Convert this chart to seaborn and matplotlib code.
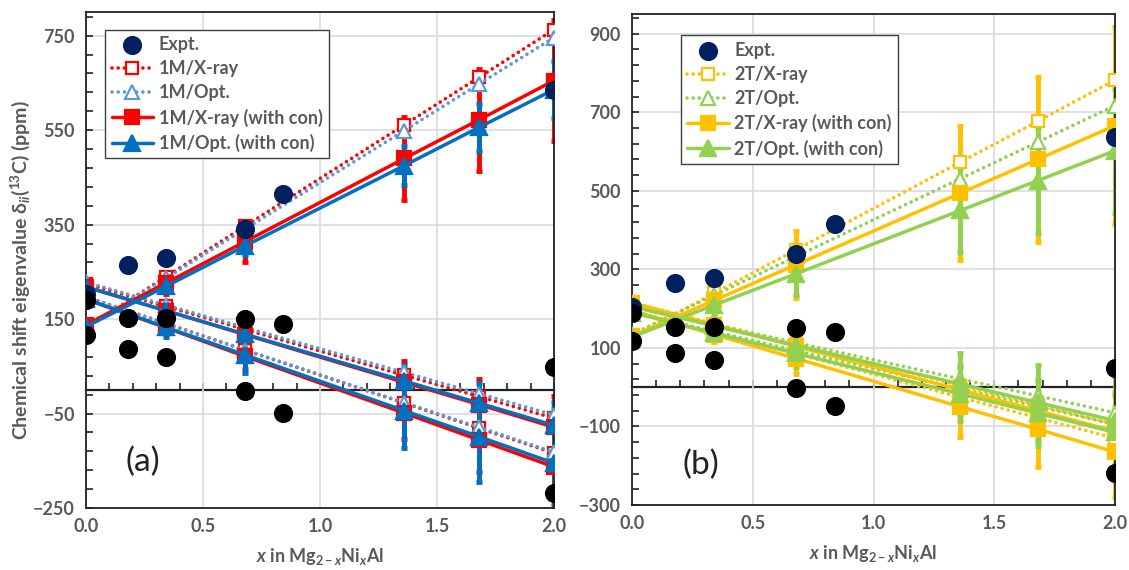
import numpy as np
import pandas as pd
import matplotlib
matplotlib.use("Agg")
import matplotlib.pyplot as plt
import seaborn as sns
from matplotlib.ticker import AutoMinorLocator

# ---- data ----
x_calc = [0, 0.34, 0.68, 1.36, 1.68, 2.0]
x_expt = [0, 0.18, 0.34, 0.68, 0.84, 2.0]

# experiment (d11 navy, d22 / d33 black)
expt_d11 = [203, 265, 279, 340, 415, 636]
expt_d22 = [190, 153, 153, 150, 140, 48]
expt_d33 = [117, 86, 70, -3, -48, -219]

# panel (a): rows = d11, d22, d33
m1_xray = [[132, 239, 347, 561, 662, 763],
           [225, 177, 128, 31, -14, -60],
           [197, 141, 84, -28, -81, -134]]
m1_opt = [[132, 236, 341, 549, 648, 746],
          [228, 180, 132, 37, -8, -53],
          [197, 141, 85, -27, -79, -132]]
m1_xray_con = [[138, 226, 314, 490, 572, 655],
               [218, 168, 117, 16, -31, -79],
               [192, 132, 71, -49, -106, -163]]
m1_opt_con = [[134, 219, 305, 475, 556, 636],
              [218, 168, 118, 19, -28, -75],
              [192, 133, 74, -44, -99, -155]]
m1_xray_con_err = [[0, 22, 44, 87, 108, 128],
                   [0, 11, 22, 45, 55, 66],
                   [0, 14, 27, 54, 67, 80]]
m1_opt_con_err = [[0, 10, 20, 41, 50, 60],
                  [0, 9, 17, 34, 42, 50],
                  [0, 20, 39, 79, 97, 116]]

# panel (b)
t2_xray = [[128, 239, 350, 573, 677, 782],
           [215, 162, 110, 4, -45, -95],
           [195, 140, 85, -26, -78, -130]]
t2_opt = [[135, 234, 333, 531, 624, 717],
          [205, 159, 113, 21, -22, -65],
          [190, 142, 93, -4, -49, -95]]
t2_xray_con = [[130, 221, 312, 494, 580, 666],
               [215, 159, 104, -7, -60, -112],
               [195, 134, 73, -50, -107, -165]]
t2_opt_con = [[128, 209, 289, 450, 526, 602],
              [205, 156, 106, 8, -39, -85],
              [190, 138, 86, -17, -66, -115]]
t2_xray_con_err = [[0, 42, 85, 170, 210, 250],
                   [0, 15, 31, 61, 76, 90],
                   [0, 19, 39, 78, 96, 114]]
t2_opt_con_err = [[0, 27, 54, 107, 133, 158],
                  [0, 19, 39, 78, 96, 114],
                  [0, 17, 34, 68, 84, 100]]

sns.set_theme(style="white")
plt.rcParams['font.family'] = ['Lato', 'DejaVu Sans']
plt.rcParams['mathtext.fontset'] = 'custom'
plt.rcParams['mathtext.rm'] = 'Lato:bold'
plt.rcParams['mathtext.it'] = 'Lato:italic:bold'
plt.rcParams['mathtext.bf'] = 'Lato:bold'

gray = '#595959'
dot = (0, (0.01, 1.7))


def draw_series(ax, vals, errs, color, mk, ls, hollow, label):
    for i, yv in enumerate(vals):
        if errs is not None:
            ax.errorbar(x_calc, yv, yerr=errs[i], fmt='none', ecolor=color,
                        elinewidth=3.5, capsize=2.5, capthick=3.5, zorder=2)
        if hollow:
            ms = 9 if mk == 's' else 10
        else:
            ms = 10.5 if mk == 's' else 11.5
        sns.lineplot(x=x_calc, y=yv, ax=ax, color=color, linestyle=ls,
                     lw=2.6 if hollow else 2.5,
                     marker=mk, markersize=ms,
                     markerfacecolor='white' if hollow else color,
                     markeredgecolor=color, markeredgewidth=1.6,
                     dash_capstyle='round',
                     label=label if i == 0 else None, zorder=3)


def draw_expt(ax):
    sns.scatterplot(x=x_expt, y=expt_d11, ax=ax, color='#002060', s=190,
                    linewidth=0, zorder=5, label='Expt.')
    sns.scatterplot(x=x_expt, y=expt_d22, ax=ax, color='black', s=190,
                    linewidth=0, zorder=6)
    sns.scatterplot(x=x_expt, y=expt_d33, ax=ax, color='black', s=190,
                    linewidth=0, zorder=6)


def style_axes(ax, ylo, yhi, yticks):
    ax.set_xlim(0, 2.0)
    ax.set_ylim(ylo, yhi)
    ax.set_xticks(np.arange(0, 2.01, 0.5))
    ax.set_xticklabels(['0.0', '0.5', '1.0', '1.5', '2.0'])
    ax.set_yticks(yticks)
    ax.yaxis.set_minor_locator(AutoMinorLocator(5))
    ax.grid(True, which='major', color='#d9d9e4', lw=1.2)
    ax.set_axisbelow(True)
    ax.tick_params(axis='y', which='both', direction='in', left=True,
                   color='#222222', width=1.2, pad=8)
    ax.tick_params(axis='y', which='major', length=5)
    ax.tick_params(axis='y', which='minor', length=5)
    ax.tick_params(axis='x', length=0, pad=7)
    for lab in ax.get_xticklabels() + ax.get_yticklabels():
        lab.set_fontweight('bold')
        lab.set_color(gray)
        lab.set_fontsize(13)
    for sp in ax.spines.values():
        sp.set_color('#222222')
        sp.set_linewidth(1.3)
    # horizontal axis crossing at zero with minor ticks
    sec = ax.secondary_xaxis(0, transform=ax.transData)
    sec.set_xticks(np.arange(0, 2.01, 0.1))
    sec.tick_params(direction='in', length=5, width=1.2, color='#222222',
                    labelbottom=False, labeltop=False)
    for sp in sec.spines.values():
        sp.set_color('#222222')
        sp.set_linewidth(1.6)
    ax.set_xlabel(r'$x$ in Mg$_{2-x}$Ni$_x$Al', fontsize=13,
                  fontweight='bold', color=gray, labelpad=8)


def make_legend(ax, loc_xy):
    leg = ax.legend(loc='upper left', bbox_to_anchor=loc_xy, fontsize=13,
                    frameon=True, fancybox=False, framealpha=1,
                    edgecolor='#404040', handlelength=2.3, handletextpad=0.3,
                    borderpad=0.35, labelspacing=0.4)
    leg.get_frame().set_linewidth(1.0)
    for t in leg.get_texts():
        t.set_fontweight('bold')
        t.set_color(gray)
    leg.set_zorder(10)


fig = plt.figure(figsize=(11.29, 5.70), dpi=100)
ax_a = fig.add_axes([0.0762, 0.1088, 0.4145, 0.870])
ax_b = fig.add_axes([0.5598, 0.114, 0.4278, 0.8614])

# ---- panel (a) ----
draw_expt(ax_a)
draw_series(ax_a, m1_xray, None, '#ff0000', 's', dot, True, '1M/X-ray')
draw_series(ax_a, m1_opt, None, '#5b9bd5', '^', dot, True, '1M/Opt.')
draw_series(ax_a, m1_xray_con, m1_xray_con_err, '#ff0000', 's', '-', False,
            '1M/X-ray (with con)')
draw_series(ax_a, m1_opt_con, m1_opt_con_err, '#0070c0', '^', '-', False,
            '1M/Opt. (with con)')
style_axes(ax_a, -250, 800, np.arange(-250, 751, 200))
ax_a.set_ylabel(r'Chemical shift eigenvalue δ$_{ii}$($^{13}$C) (ppm)',
                fontsize=14, fontweight='bold', color=gray)
ax_a.yaxis.set_label_coords(-0.115, 0.48)
make_legend(ax_a, (0.022, 0.983))
ax_a.text(0.122, 0.093, '(a)', transform=ax_a.transAxes, fontsize=24,
          ha='center', va='center', color='#222222')

# ---- panel (b) ----
draw_expt(ax_b)
draw_series(ax_b, t2_xray, None, '#ffc000', 's', dot, True, '2T/X-ray')
draw_series(ax_b, t2_opt, None, '#92d050', '^', dot, True, '2T/Opt.')
draw_series(ax_b, t2_xray_con, t2_xray_con_err, '#ffc000', 's', '-', False,
            '2T/X-ray (with con)')
draw_series(ax_b, t2_opt_con, t2_opt_con_err, '#92d050', '^', '-', False,
            '2T/Opt. (with con)')
style_axes(ax_b, -300, 950, np.arange(-300, 901, 200))
ax_b.set_ylabel('')
make_legend(ax_b, (0.083, 0.975))
ax_b.text(0.143, 0.081, '(b)', transform=ax_b.transAxes, fontsize=24,
          ha='center', va='center', color='#222222')

fig.savefig('out.png', dpi=100)
